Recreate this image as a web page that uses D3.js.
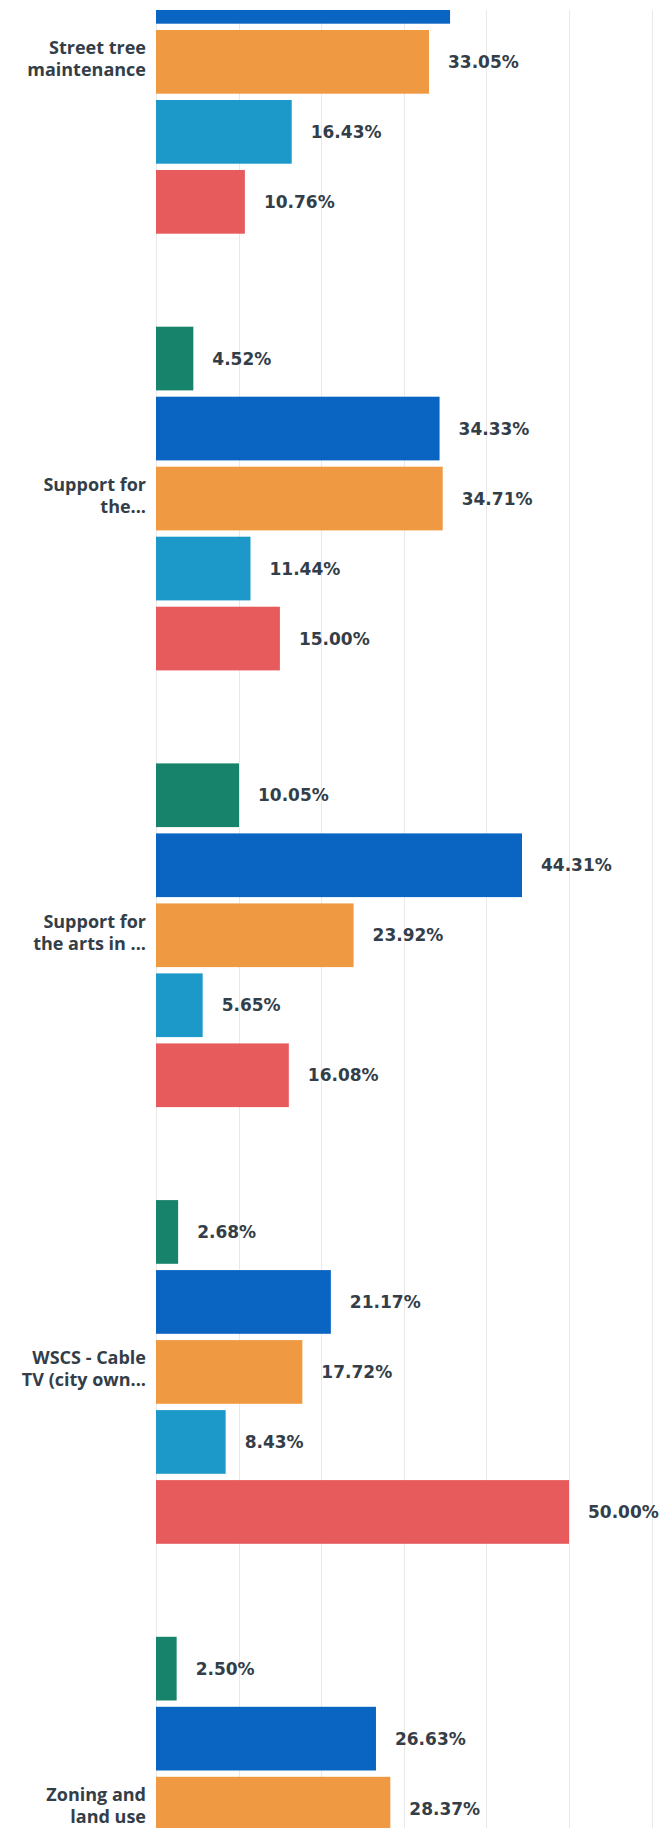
<!DOCTYPE html>
<html>
<head>
<meta charset="utf-8">
<script src="https://cdn.jsdelivr.net/npm/d3@7"></script>
<style>
  html, body { margin: 0; padding: 0; background: #ffffff; }
  svg { display: block; }
</style>
</head>
<body>
<svg id="chart" width="669" height="1828"></svg>
<script>
// Category labels, already wrapped onto two lines each
const categories = [
  ["Street tree", "maintenance"],
  ["Support for", "the..."],
  ["Support for", "the arts in ..."],
  ["WSCS - Cable", "TV (city own..."],
  ["Zoning and", "land use"]
];

// Response series, in drawing order within each group
const seriesNames = ["Response 1", "Response 2", "Response 3", "Response 4", "Response 5"];
const seriesColors = ["#17836a", "#0a65c2", "#ef9a43", "#1c98c9", "#e75b5d"];

// Percent values per series (null where the bar lies outside the visible area)
const series1 = [null, 4.52, 10.05, 2.68, 2.50];
const series2 = [35.6, 34.33, 44.31, 21.17, 26.63];
const series3 = [33.05, 34.71, 23.92, 17.72, 28.37];
const series4 = [16.43, 11.44, 5.65, 8.43, null];
const series5 = [10.76, 15.00, 16.08, 50.00, null];

// Grid tick values on the percent axis
const xTicks = [0, 10, 20, 30, 40, 50, 60];

const allSeries = [series1, series2, series3, series4, series5];
const catKeys = categories.map(c => c.join(" "));

const W = 669, H = 1828, TOP = 10;
const svg = d3.select("#chart");

const x = d3.scaleLinear().domain([0, 60]).range([156, 651.6]);

const y0 = d3.scaleBand()
  .domain(catKeys)
  .range([-113.15, 1983.65])
  .paddingInner(0.1985)
  .paddingOuter(0);

const y1 = d3.scaleBand()
  .domain(seriesNames)
  .range([0, y0.bandwidth()])
  .paddingInner(0.09)
  .paddingOuter(0.045);

const color = d3.scaleOrdinal().domain(seriesNames).range(seriesColors);

svg.append("defs").append("clipPath").attr("id", "plotClip")
  .append("rect").attr("x", 0).attr("y", TOP).attr("width", W).attr("height", H - TOP);

const plot = svg.append("g").attr("clip-path", "url(#plotClip)");

// vertical grid lines
plot.append("g").selectAll("line")
  .data(xTicks)
  .join("line")
  .attr("x1", d => Math.round(x(d)) + 0.5)
  .attr("x2", d => Math.round(x(d)) + 0.5)
  .attr("y1", TOP)
  .attr("y2", H)
  .attr("stroke", "#e9e9e9")
  .attr("stroke-width", 1);

// flatten into bar records
const rows = [];
catKeys.forEach((c, ci) => {
  seriesNames.forEach((s, si) => {
    const v = allSeries[si][ci];
    if (v !== null) rows.push({ cat: c, series: s, value: v });
  });
});

const barY = d => y0(d.cat) + y1(d.series);
const barMid = d => barY(d) + y1.bandwidth() / 2;

const groups = plot.append("g");

groups.selectAll("rect")
  .data(rows)
  .join("rect")
  .attr("x", x(0))
  .attr("y", barY)
  .attr("width", d => x(d.value) - x(0))
  .attr("height", y1.bandwidth())
  .attr("fill", d => color(d.series));

// value labels (only for bars whose middle sits inside the plot)
groups.selectAll("text.val")
  .data(rows.filter(d => barMid(d) > TOP + 8))
  .join("text")
  .attr("class", "val")
  .attr("x", d => x(d.value) + 19)
  .attr("y", barMid)
  .attr("dy", "0.36em")
  .attr("font-family", "'DejaVu Sans', sans-serif")
  .attr("font-weight", 700)
  .attr("font-size", 17)
  .attr("fill", "#333e48")
  .text(d => d.value.toFixed(2) + "%");

// category labels
const catLabel = svg.append("g").selectAll("text")
  .data(categories)
  .join("text")
  .attr("text-anchor", "end")
  .attr("font-family", "'Open Sans', sans-serif")
  .attr("font-weight", 700)
  .attr("font-size", 18)
  .attr("fill", "#333e48")
  .attr("transform", (d, i) => `translate(146,${y0(catKeys[i]) + y0.bandwidth() / 2})`);

catLabel.selectAll("tspan")
  .data(d => d)
  .join("tspan")
  .attr("x", 0)
  .attr("y", (d, i, nodes) => (i - (nodes.length - 1) / 2) * 22)
  .attr("dy", "0.18em")
  .text(d => d);
</script>
</body>
</html>
